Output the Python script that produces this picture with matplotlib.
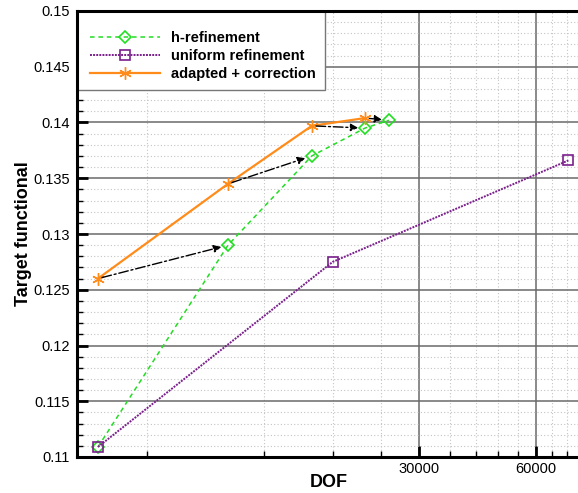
import matplotlib
matplotlib.use('Agg')
import matplotlib.pyplot as plt
from matplotlib.ticker import NullFormatter
from matplotlib.patches import Rectangle

plt.rcParams['font.family'] = ['Liberation Sans', 'DejaVu Sans']

# data
dof_h = [4480, 9680, 15900, 21800, 25100]
J_h = [0.1109, 0.1290, 0.1370, 0.1395, 0.1402]

dof_u = [4480, 18000, 72700]
J_u = [0.1109, 0.1275, 0.1366]

dof_a = [4480, 9680, 15900, 21800]
J_a = [0.1260, 0.1345, 0.1397, 0.1404]

x_major = [30000, 60000]
x_minor = [6000, 12000, 18000, 24000, 36000, 42000, 48000, 54000, 66000, 72000]
y_major = [0.11, 0.115, 0.12, 0.125, 0.13, 0.135, 0.14, 0.145, 0.15]

fig = plt.figure(figsize=(5.78, 4.93), dpi=100)
ax = fig.add_axes([77/578, 36/493, (580-77)/578, 446/493])
ax.set_xscale('log')
ax.set_xlim(3957, 77870)
ax.set_ylim(0.11, 0.15)

ax.plot(dof_h, J_h, color='#22dd22', ls=(0, (3, 2.5)), lw=1.1, marker='D', ms=6,
        mfc='none', mec='#22dd22', mew=1.2, label='h-refinement', zorder=4)
ax.plot(dof_u, J_u, color='#7a1f8c', ls=(0, (1, 0.6)), lw=1.4, marker='s', ms=6.5,
        mfc='none', mec='#7a1f8c', mew=1.2, label='uniform refinement', zorder=4)
ax.plot(dof_a, J_a, color='#ff8c1a', ls='-', lw=1.6, marker=(6, 2, 0), ms=9,
        mec='#ff8c1a', mew=1.0, label='adapted + correction', zorder=5)

# correction arrows: adapted point -> next h-refinement point
for i in range(len(dof_a)):
    ax.annotate('', xy=(dof_h[i+1], J_h[i+1]), xytext=(dof_a[i], J_a[i]),
                arrowprops=dict(arrowstyle='-|>', linestyle=(0, (7, 2, 1.5, 2)),
                                color='black', lw=1.0, mutation_scale=11,
                                shrinkA=3, shrinkB=5), zorder=6)

ax.set_xticks(x_major, labels=['30000', '60000'])
ax.set_xticks(x_minor, minor=True)
ax.xaxis.set_minor_formatter(NullFormatter())
ax.set_yticks(y_major, labels=['%g' % v for v in y_major])
ax.set_yticks([0.11 + 0.001*k for k in range(41)], minor=True)

ax.tick_params(which='major', direction='in', length=8, width=2, labelsize=10.5, pad=5)
ax.tick_params(which='minor', direction='in', length=4.5, width=1)
ax.tick_params(axis='x', which='major', pad=3.5)

ax.grid(which='major', color='#6a6a6a', lw=1.1, ls='-')
ax.grid(which='minor', color='#c4c4c4', lw=0.8, ls=(0, (1, 2)))
ax.set_axisbelow(True)

for s in ['left', 'bottom', 'top']:
    ax.spines[s].set_linewidth(2.2)
ax.spines['right'].set_visible(False)

ax.set_xlabel('DOF', fontsize=13, fontweight='bold', labelpad=-1.5)
ax.set_ylabel('Target functional', fontsize=13, fontweight='bold', labelpad=1)

# legend box sits in the top-left corner of the axes
ax.add_patch(Rectangle((0, (457-90)/446), (325-77)/503, 1 - (457-90)/446,
                       transform=ax.transAxes, facecolor='white',
                       edgecolor='#777777', lw=1.0, zorder=2))
leg = ax.legend(loc='upper left', bbox_to_anchor=(4/503, 1 - 11/446), borderaxespad=0,
                frameon=False, prop={'weight': 'bold', 'size': 10.5},
                handlelength=4.8, borderpad=0.6, labelspacing=0.28,
                handletextpad=0.75)

fig.savefig('out.png', dpi=100)
